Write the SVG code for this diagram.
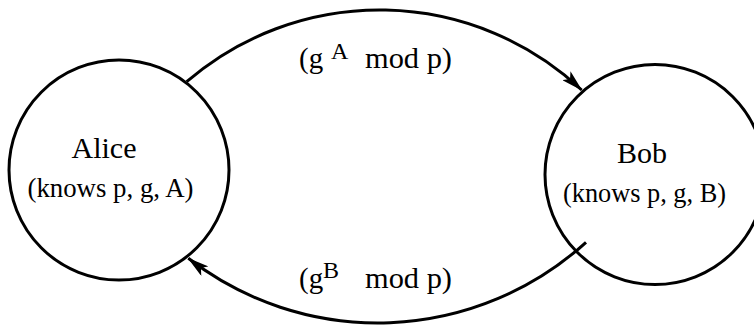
<svg xmlns="http://www.w3.org/2000/svg" width="754" height="326" viewBox="0 0 754 326">
<style>
.node{fill:#fff;stroke:#000;stroke-width:3}
.edge{fill:none;stroke:#000;stroke-width:3}
text{font-family:"Liberation Serif","Times New Roman",serif;fill:#000}
.name{font-size:30px;text-anchor:middle}
.know{font-size:27px;text-anchor:middle}
.lbl{font-size:29px}
.sup{font-size:24px}
</style>
<defs>
<marker id="arr" viewBox="0 0 22 12" refX="21" refY="6" markerWidth="22" markerHeight="12" markerUnits="userSpaceOnUse" orient="auto">
<path d="M0,0 L22,6 L0,12 L5,6 Z" fill="#000"/>
</marker>
</defs>
<g id="alice">
<circle class="node" cx="119" cy="170" r="110"/>
<text class="name" x="104" y="158">Alice</text>
<text class="know" x="110.5" y="197" textLength="166" lengthAdjust="spacingAndGlyphs">(knows p, g, A)</text>
</g>
<g id="bob">
<circle class="node" cx="655" cy="174.5" r="110"/>
<text class="name" x="642" y="163">Bob</text>
<text class="know" x="644.5" y="202" textLength="163" lengthAdjust="spacingAndGlyphs">(knows p, g, B)</text>
</g>
<g id="connectors">
<path class="edge" d="M186.7,81.7 A295.4,295.4 0 0 1 581.7,90" marker-end="url(#arr)"/>
<path class="edge" d="M586,242.3 A309.7,309.7 0 0 1 188.3,258.3" marker-end="url(#arr)"/>
</g>
<g id="labels">
<text class="lbl" x="299" y="68">(g</text>
<text class="sup" x="331" y="59">A</text>
<text class="lbl" x="365" y="68" textLength="87" lengthAdjust="spacingAndGlyphs">mod p)</text>
<text class="lbl" x="299" y="288">(g</text>
<text class="sup" x="323" y="278">B</text>
<text class="lbl" x="365" y="288" textLength="87" lengthAdjust="spacingAndGlyphs">mod p)</text>
</g>
</svg>
